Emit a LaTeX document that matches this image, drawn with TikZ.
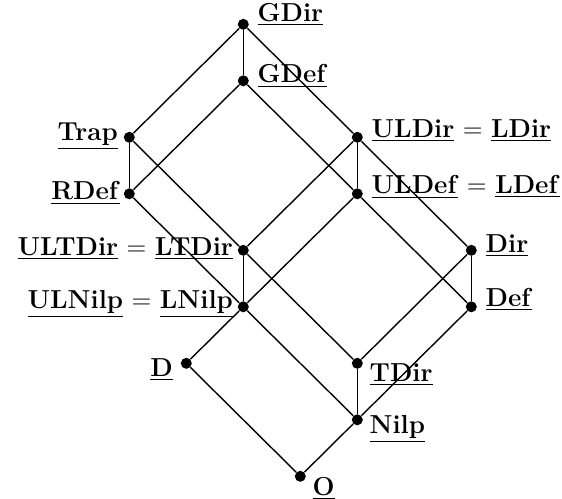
\documentclass[tikz,border=0pt]{standalone}
\usepackage{fontspec}
\newcommand{\rad}[1]{\underline{\textbf{#1}}}

\begin{document}
\begin{tikzpicture}[
    x=28.5pt, y=-28.25pt,
    site/.style={circle, fill=black, inner sep=0pt, minimum size=5.5pt},
    wire/.style={draw=black, line width=0.7pt},
    lbl/.style={font=\fontsize{13}{16}\selectfont, inner sep=0pt},
  ]
  \useasboundingbox (-64.65pt,12.15pt) rectangle (216.35pt,-236.85pt);

  % ---- the sites of the lattice
  \node[site] (gdir)   at (2,0) {};
  \node[site] (gdef)   at (2,1) {};
  \node[site] (trap)   at (0,2) {};
  \node[site] (uldir)  at (4,2) {};
  \node[site] (rdef)   at (0,3) {};
  \node[site] (uldef)  at (4,3) {};
  \node[site] (ultdir) at (2,4) {};
  \node[site] (dir)    at (6,4) {};
  \node[site] (ulnilp) at (2,5) {};
  \node[site] (def)    at (6,5) {};
  \node[site] (d)      at (1,6) {};
  \node[site] (tdir)   at (4,6) {};
  \node[site] (nilp)   at (4,7) {};
  \node[site] (o)      at (3,8) {};

  % ---- covering relations
  \draw[wire] (gdir) -- (gdef);
  \draw[wire] (gdir) -- (trap);
  \draw[wire] (gdir) -- (uldir) -- (dir);
  \draw[wire] (gdef) -- (rdef);
  \draw[wire] (gdef) -- (uldef) -- (def);
  \draw[wire] (trap) -- (rdef);
  \draw[wire] (trap) -- (ultdir) -- (tdir);
  \draw[wire] (rdef) -- (ulnilp) -- (nilp);
  \draw[wire] (uldir) -- (uldef);
  \draw[wire] (uldir) -- (ultdir);
  \draw[wire] (uldef) -- (ulnilp);
  \draw[wire] (ultdir) -- (ulnilp);
  \draw[wire] (dir) -- (def);
  \draw[wire] (dir) -- (tdir);
  \draw[wire] (def) -- (nilp);
  \draw[wire] (ulnilp) -- (d);
  \draw[wire] (tdir) -- (nilp);
  \draw[wire] (d) -- (o);
  \draw[wire] (nilp) -- (o);

  % ---- labels, right of the sites
  \node[lbl, anchor=base west] (gdirl)  at ([shift={(7pt,1.5pt)}]gdir)  {\rad{GDir}};
  \node[lbl, anchor=base west] (gdefl)  at ([shift={(7pt,-1pt)}]gdef)   {\rad{GDef}};
  \node[lbl, anchor=base west] (uldirl) at ([shift={(7pt,0pt)}]uldir)   {\rad{ULDir} = \rad{LDir}};
  \node[lbl, anchor=base west] (uldefl) at ([shift={(7pt,0pt)}]uldef)   {\rad{ULDef} = \rad{LDef}};
  \node[lbl, anchor=base west] (dirl)   at ([shift={(7pt,-1pt)}]dir)    {\rad{Dir}};
  \node[lbl, anchor=base west] (defl)   at ([shift={(7pt,0pt)}]def)     {\rad{Def}};
  \node[lbl, anchor=base west] (tdirl)  at ([shift={(6pt,-9pt)}]tdir)   {\rad{TDir}};
  \node[lbl, anchor=base west] (nilpl)  at ([shift={(6pt,-7pt)}]nilp)   {\rad{Nilp}};
  \node[lbl, anchor=base west] (ol)     at ([shift={(6pt,-9.5pt)}]o)    {\rad{O}};

  % ---- labels, left of the sites
  \node[lbl, anchor=base east] (trapl)   at ([shift={(-5.5pt,-1.5pt)}]trap) {\rad{Trap}};
  \node[lbl, anchor=base east] (rdefl)   at ([shift={(-4.5pt,-3pt)}]rdef)   {\rad{RDef}};
  \node[lbl, anchor=base east] (ultdirl) at ([shift={(-5pt,-2.5pt)}]ultdir) {\rad{ULTDir} = \rad{LTDir}};
  \node[lbl, anchor=base east] (ulnilpl) at ([shift={(-5pt,-1pt)}]ulnilp)   {\rad{ULNilp} = \rad{LNilp}};
  \node[lbl, anchor=base east] (dl)      at ([shift={(-6.5pt,-6.5pt)}]d)    {\rad{D}};
\end{tikzpicture}
\end{document}
